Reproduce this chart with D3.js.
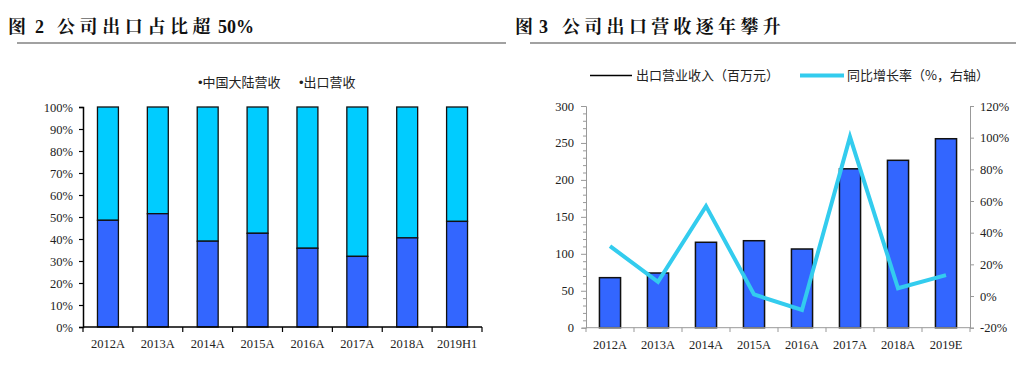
<!DOCTYPE html>
<html><head><meta charset="utf-8">
<script src="https://cdn.jsdelivr.net/npm/d3@7"></script>
<style>
body{margin:0;background:#fff;}
svg{display:block;}
</style></head>
<body><svg id="c" width="1036" height="370"></svg>
<script>
// Left chart data
const catsL = ["2012A","2013A","2014A","2015A","2016A","2017A","2018A","2019H1"];
const mainlandShare = [48.5,51.5,39,42.6,35.8,32.1,40.5,48];
const exportShare = mainlandShare.map(v => 100 - v);
const ticksL = [0,10,20,30,40,50,60,70,80,90,100];
// Right chart data
const catsR = ["2012A","2013A","2014A","2015A","2016A","2017A","2018A","2019E"];
const exportRevenue = [67.7,74,115.6,117.7,106.5,215,226.5,255.7];
const yoyGrowth = [31.5,9,56.8,1,-8.8,100.5,4.9,13.2];
const ticksRL = [0,50,100,150,200,250,300];
const ticksRR = [-20,0,20,40,60,80,100,120];

const svg = d3.select("#c");
const serif = "'Liberation Serif','DejaVu Serif',serif";
const cjkSerif = "'Noto Serif CJK SC','Noto Sans CJK SC',serif";
const sans = "'Noto Sans CJK SC','Noto Sans',sans-serif";
const latinSans = "'Liberation Sans',sans-serif";

// Titles: parts = [text, font, x, letterSpacing]
function title(parts, lx1, lx2){
  const t = svg.append("text").attr("y",33).attr("font-size",18).attr("font-weight","bold").attr("fill","#111");
  parts.forEach(p=>t.append("tspan").attr("x",p[2]).attr("font-family",p[1]).attr("letter-spacing",p[3]).text(p[0]));
  svg.append("line").attr("x1",lx1).attr("x2",lx2).attr("y1",43).attr("y2",43).attr("stroke","#444").attr("stroke-width",1.2);
}
title([["图",cjkSerif,8,0],["2",serif,35,0],["公司出口占比超",cjkSerif,57,4.6],["50%",serif,218,0]], 17, 506);
title([["图",cjkSerif,515,0],["3",serif,539,0],["公司出口营收逐年攀升",cjkSerif,562,4.3]], 530, 1016);

// ---------- Left chart ----------
const xL = d3.scaleBand().domain(catsL).range([83,482]).paddingInner(0.58).paddingOuter(0.29);
const yL = d3.scaleLinear().domain([0,100]).range([327,107]);
const gL = svg.append("g");
catsL.forEach((c,i)=>{
  gL.append("rect").attr("x",xL(c)).attr("width",xL.bandwidth())
    .attr("y",yL(100)).attr("height",yL(mainlandShare[i])-yL(100))
    .attr("fill","#00CCFF").attr("stroke","#111").attr("stroke-width",1.3);
  gL.append("rect").attr("x",xL(c)).attr("width",xL.bandwidth())
    .attr("y",yL(mainlandShare[i])).attr("height",yL(0)-yL(mainlandShare[i]))
    .attr("fill","#3366FF").attr("stroke","#111").attr("stroke-width",1.3);
});
const axL = gL.append("g").attr("transform","translate(83,0)")
  .call(d3.axisLeft(yL).tickValues(ticksL).tickFormat(d=>d+"%").tickSize(4));
axL.select(".domain").attr("stroke","#000").attr("stroke-width",1.5);
axL.selectAll(".tick line").attr("stroke","#000").attr("stroke-width",1.2);
axL.selectAll("text").attr("font-family",serif).attr("font-size",12.5).attr("fill","#222").attr("x",-10);
gL.append("line").attr("x1",83).attr("x2",482).attr("y1",327).attr("y2",327).attr("stroke","#000").attr("stroke-width",1.5);
d3.range(catsL.length+1).forEach(i=>{
  const x = 83 + i*(399/catsL.length);
  gL.append("line").attr("x1",x).attr("x2",x).attr("y1",327).attr("y2",332).attr("stroke","#000").attr("stroke-width",1.2);
});
catsL.forEach(c=>{
  gL.append("text").attr("x",xL(c)+xL.bandwidth()/2).attr("y",348).attr("text-anchor","middle")
    .attr("font-family",serif).attr("font-size",12.5).attr("fill","#222").text(c);
});
// legend left
function bulletLabel(x, txt){
  const t = gL.append("text").attr("x",x).attr("y",87).attr("font-size",13).attr("fill","#222");
  t.append("tspan").attr("font-family",latinSans).text("•");
  t.append("tspan").attr("font-family",sans).text(txt);
}
bulletLabel(198, "中国大陆营收");
bulletLabel(299, "出口营收");

// ---------- Right chart ----------
const xR = d3.scaleBand().domain(catsR).range([586,970]).paddingInner(0.56).paddingOuter(0.28);
const yR = d3.scaleLinear().domain([0,300]).range([327.7,106]);
const yR2 = d3.scaleLinear().domain([-20,120]).range([327.7,106]);
const gR = svg.append("g");
catsR.forEach((c,i)=>{
  gR.append("rect").attr("x",xR(c)).attr("width",xR.bandwidth())
    .attr("y",yR(exportRevenue[i])).attr("height",yR(0)-yR(exportRevenue[i]))
    .attr("fill","#3366FF").attr("stroke","#111").attr("stroke-width",1.5);
});
const line = d3.line().x((d,i)=>xR(catsR[i])+xR.bandwidth()/2).y(d=>yR2(d));
gR.append("path").datum(yoyGrowth).attr("d",line).attr("fill","none")
  .attr("stroke","#33CCEE").attr("stroke-width",4).attr("stroke-linejoin","miter");
// left axis with minor ticks
const axRL = gR.append("g").attr("transform","translate(586,0)")
  .call(d3.axisLeft(yR).tickValues(d3.range(0,301,10)).tickFormat(d=>ticksRL.includes(d)?d:"").tickSize(4));
axRL.select(".domain").attr("stroke","#999").attr("stroke-width",1);
axRL.selectAll(".tick line").attr("stroke","#999").attr("x2",d=>ticksRL.includes(d)?-5:-3);
axRL.selectAll("text").attr("font-family",serif).attr("font-size",12.5).attr("fill","#222").attr("x",-12);
// right axis
const axRR = gR.append("g").attr("transform","translate(970,0)")
  .call(d3.axisRight(yR2).tickValues(ticksRR).tickFormat(d=>d+"%").tickSize(4));
axRR.select(".domain").attr("stroke","#999").attr("stroke-width",1);
axRR.selectAll(".tick line").attr("stroke","#999");
axRR.selectAll("text").attr("font-family",serif).attr("font-size",12.5).attr("fill","#222").attr("x",10);
// x axis
gR.append("line").attr("x1",586).attr("x2",970).attr("y1",327.7).attr("y2",327.7).attr("stroke","#999").attr("stroke-width",1);
d3.range(catsR.length+1).forEach(i=>{
  const x = 586 + i*(384/catsR.length);
  gR.append("line").attr("x1",x).attr("x2",x).attr("y1",327.7).attr("y2",332).attr("stroke","#999");
});
catsR.forEach(c=>{
  gR.append("text").attr("x",xR(c)+xR.bandwidth()/2).attr("y",349).attr("text-anchor","middle")
    .attr("font-family",serif).attr("font-size",12.5).attr("fill","#222").text(c);
});
// legend right
gR.append("line").attr("x1",590).attr("x2",632).attr("y1",75.5).attr("y2",75.5).attr("stroke","#000").attr("stroke-width",1.5);
gR.append("text").attr("x",636).attr("y",80).attr("font-family",sans).attr("font-size",13).attr("fill","#222").text("出口营业收入（百万元）");
gR.append("line").attr("x1",800).attr("x2",844).attr("y1",75.5).attr("y2",75.5).attr("stroke","#33CCEE").attr("stroke-width",4);
gR.append("text").attr("x",847).attr("y",80).attr("font-family",sans).attr("font-size",13).attr("fill","#222").text("同比增长率（%，右轴）");
</script></body></html>
